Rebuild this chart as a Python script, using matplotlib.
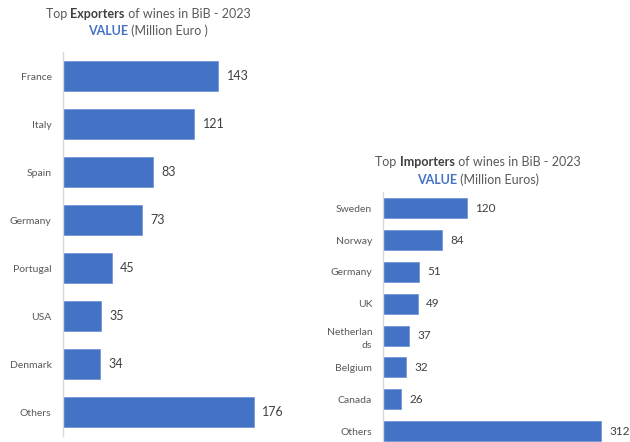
import matplotlib
matplotlib.use("Agg")
import matplotlib.pyplot as plt

# Top exporters / importers of bag-in-box wine, 2023, value in million euro
exp_countries = ["France", "Italy", "Spain", "Germany", "Portugal", "USA", "Denmark", "Others"]
exp_values = [143, 121, 83, 73, 45, 35, 34, 176]

imp_countries = ["Sweden", "Norway", "Germany", "UK", "Netherlan\nds", "Belgium", "Canada", "Others"]
imp_values = [120, 84, 51, 49, 37, 32, 26, 312]

BAR = "#4472C4"
LABEL = "#595959"
VALUE_TXT = "#404040"
FONT = ["Lato", "DejaVu Sans"]

plt.rcParams["font.family"] = FONT

W, H = 630, 442
fig = plt.figure(figsize=(W / 100, H / 100), dpi=100)


def px_axes(left, top, right, bottom):
    """Axes from pixel box (origin top-left)."""
    return fig.add_axes([left / W, 1 - bottom / H, (right - left) / W, (bottom - top) / H])


def bar_panel(ax, cats, vals, xmax, height, valsize):
    y = list(range(len(cats)))
    ax.barh(y, vals, height=height, color=BAR, edgecolor="#6A8FD0", linewidth=0.5)
    ax.set_ylim(len(cats) - 0.5, -0.5)
    ax.set_xlim(0, xmax)
    ax.set_yticks(y)
    ax.set_yticklabels(cats, fontsize=7.5, color=LABEL, linespacing=1.6)
    ax.tick_params(axis="y", length=0, pad=8)
    ax.set_xticks([])
    for side in ("top", "right", "bottom"):
        ax.spines[side].set_visible(False)
    ax.spines["left"].set_color("#D9D9D9")
    ax.spines["left"].set_linewidth(1.0)
    for yi, v in zip(y, vals):
        ax.annotate(f"{v}", xy=(v, yi), xytext=(6, 0), textcoords="offset points",
                    ha="left", va="center", fontsize=valsize, color=VALUE_TXT,
                    annotation_clip=False)


def rich_line(cx, cy, pieces, size):
    """Centered single line made of (text, color, weight) pieces, pixel coords."""
    r = fig.canvas.get_renderer()
    texts = []
    for s, c, w in pieces:
        t = fig.text(0, 1 - cy / H, s, color=c, fontweight=w, fontsize=size,
                     ha="left", va="center")
        texts.append(t)
    widths = [t.get_window_extent(r).width for t in texts]
    start = cx - sum(widths) / 2
    for t, w in zip(texts, widths):
        t.set_x(start / W)
        start += w


ax1 = px_axes(62.7, 52.3, 62.7 + 200 * 1.087, 436.3)
bar_panel(ax1, exp_countries, exp_values, 200, 0.63, 9)

ax2 = px_axes(383.3, 192.4, 383.3 + 330 * 0.698, 447)
bar_panel(ax2, imp_countries, imp_values, 330, 0.63, 8.5)

rich_line(148, 14, [("Top ", LABEL, "normal"), ("Exporters", "#404040", "bold"),
                    (" of wines in BiB - 2023", LABEL, "normal")], 9)
rich_line(148, 31, [("VALUE", BAR, "bold"), (" (Million Euro )", LABEL, "normal")], 9)
rich_line(478, 162, [("Top ", LABEL, "normal"), ("Importers", "#404040", "bold"),
                     (" of wines in BiB - 2023", LABEL, "normal")], 9)
rich_line(478, 179.5, [("VALUE", BAR, "bold"), (" (Million Euros)", LABEL, "normal")], 9)

fig.savefig("out.png", dpi=100)
